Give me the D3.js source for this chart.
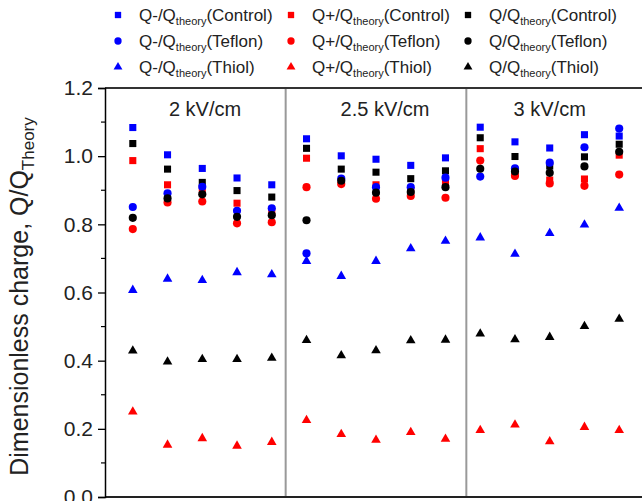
<!DOCTYPE html>
<html>
<head>
<meta charset="utf-8">
<script src="https://cdn.jsdelivr.net/npm/d3@7"></script>
<style>
  html, body { margin: 0; padding: 0; background: #fff; overflow: hidden; }
  svg { display: block; font-family: "Liberation Sans", Arial, sans-serif; }
</style>
</head>
<body>
<div id="chart"></div>
<script>
// Tamaño del lienzo
const width = 642;
const height = 501;

// Posiciones de las muestras en el eje x (5 por campo eléctrico)
const xPos = [1, 2, 3, 4, 5, 6, 7, 8, 9, 10, 11, 12, 13, 14, 15];

// Etiquetas de los paneles y su posición
const fieldLabels = ["2 kV/cm", "2.5 kV/cm", "3 kV/cm"];
const fieldLabelX = [3.08, 8.26, 13.0];
const dividers = [5.4, 10.6];

// Marcas del eje y
const yTicks = [0.0, 0.2, 0.4, 0.6, 0.8, 1.0, 1.2];
const yMinorTicks = [0.1, 0.3, 0.5, 0.7, 0.9, 1.1];

// Series
const qMinusControl = [1.084, 1.004, 0.964, 0.936, 0.916, 1.051, 1.001, 0.991, 0.973, 0.995, 1.085, 1.042, 1.024, 1.063, 1.059];
const qPlusControl  = [0.987, 0.916, 0.903, 0.862, 0.837, 0.994, 0.925, 0.916, 0.900, 0.925, 1.022, 0.950, 0.930, 0.933, 1.003];
const qControl      = [1.037, 0.962, 0.923, 0.899, 0.880, 1.023, 0.962, 0.953, 0.934, 0.957, 1.054, 0.999, 0.971, 0.998, 1.035];
const qMinusTeflon  = [0.851, 0.891, 0.910, 0.840, 0.847, 0.715, 0.934, 0.909, 0.909, 0.937, 0.940, 0.964, 0.981, 1.026, 1.081];
const qPlusTeflon   = [0.786, 0.864, 0.867, 0.803, 0.806, 0.909, 0.918, 0.875, 0.883, 0.878, 0.987, 0.942, 0.920, 0.913, 0.946];
const qTeflon       = [0.819, 0.876, 0.888, 0.822, 0.827, 0.812, 0.928, 0.893, 0.895, 0.909, 0.963, 0.955, 0.951, 0.970, 1.013];
const qMinusThiol   = [0.607, 0.640, 0.636, 0.659, 0.653, 0.692, 0.648, 0.692, 0.729, 0.751, 0.761, 0.713, 0.774, 0.799, 0.848];
const qPlusThiol    = [0.250, 0.153, 0.172, 0.150, 0.161, 0.225, 0.184, 0.167, 0.190, 0.170, 0.196, 0.212, 0.163, 0.205, 0.196];
const qThiol        = [0.429, 0.397, 0.404, 0.404, 0.408, 0.460, 0.415, 0.430, 0.459, 0.461, 0.479, 0.462, 0.469, 0.501, 0.522];

// Nombres de la leyenda (orden por filas)
const prefixes = ["Q-/Q", "Q+/Q", "Q/Q"];
const samples = ["Control", "Teflon", "Thiol"];

// Tabla de series: fila = muestra, columna = tipo de carga
const series = [
  { values: qMinusControl, color: "#0000ff", shape: "square", col: 0, row: 0 },
  { values: qPlusControl,  color: "#ff0000", shape: "square", col: 1, row: 0 },
  { values: qControl,      color: "#000000", shape: "square", col: 2, row: 0 },
  { values: qMinusTeflon,  color: "#0000ff", shape: "circle", col: 0, row: 1 },
  { values: qPlusTeflon,   color: "#ff0000", shape: "circle", col: 1, row: 1 },
  { values: qTeflon,       color: "#000000", shape: "circle", col: 2, row: 1 },
  { values: qMinusThiol,   color: "#0000ff", shape: "triangle", col: 0, row: 2 },
  { values: qPlusThiol,    color: "#ff0000", shape: "triangle", col: 1, row: 2 },
  { values: qThiol,        color: "#000000", shape: "triangle", col: 2, row: 2 }
];

// Escalas
const x = d3.scaleLinear().domain([0.2, 15.8]).range([105, 647]);
const y = d3.scaleLinear().domain([0, 1.2]).range([497, 88]);

const symbols = {
  square: d3.symbol().type(d3.symbolSquare).size(50),
  circle: d3.symbol().type(d3.symbolCircle).size(52),
  triangle: d3.symbol().type(d3.symbolTriangle).size(40)
};
const legendSymbols = {
  square: d3.symbol().type(d3.symbolSquare).size(40),
  circle: d3.symbol().type(d3.symbolCircle).size(42),
  triangle: d3.symbol().type(d3.symbolTriangle).size(34)
};

const svg = d3.select("#chart").append("svg")
  .attr("width", width)
  .attr("height", height);

// Separadores de los paneles
svg.selectAll(".divider")
  .data(dividers)
  .enter().append("line")
  .attr("x1", d => x(d)).attr("x2", d => x(d))
  .attr("y1", y(1.2)).attr("y2", y(0))
  .attr("stroke", "#999")
  .attr("stroke-width", 2);

// Línea superior del marco
svg.append("line")
  .attr("x1", x(0.2)).attr("x2", width)
  .attr("y1", y(1.2)).attr("y2", y(1.2))
  .attr("stroke", "#333")
  .attr("stroke-width", 2);

// Eje x (solo la línea)
svg.append("line")
  .attr("x1", x(0.2)).attr("x2", width)
  .attr("y1", y(0)).attr("y2", y(0))
  .attr("stroke", "#222")
  .attr("stroke-width", 2);

// Eje y
const yAxis = svg.append("g")
  .attr("transform", `translate(${x(0.2)},0)`)
  .call(d3.axisLeft(y).tickValues(yTicks).tickFormat(d3.format(".1f")).tickSize(7).tickPadding(5));
yAxis.select(".domain").attr("stroke", "#000").attr("stroke-width", 1.5);
yAxis.selectAll(".tick line").attr("stroke", "#000").attr("stroke-width", 1.3);
yAxis.selectAll(".tick text")
  .attr("font-family", "'Liberation Sans', Arial, sans-serif")
  .attr("font-size", 21)
  .attr("fill", "#222");

svg.append("g")
  .attr("transform", `translate(${x(0.2)},0)`)
  .selectAll("line")
  .data(yMinorTicks)
  .enter().append("line")
  .attr("x1", -4).attr("x2", 0)
  .attr("y1", d => y(d)).attr("y2", d => y(d))
  .attr("stroke", "#000")
  .attr("stroke-width", 1.2);

// Título del eje y
const yTitle = svg.append("text")
  .attr("transform", `translate(28,${(y(0) + y(1.2)) / 2 + 4}) rotate(-90)`)
  .attr("text-anchor", "middle")
  .attr("font-size", 25)
  .attr("fill", "#222");
yTitle.append("tspan").text("Dimensionless charge, Q/Q");
yTitle.append("tspan").attr("font-size", 17).attr("dy", 6).text("Theory");

// Etiquetas de los paneles
svg.selectAll(".field")
  .data(fieldLabels)
  .enter().append("text")
  .attr("x", (d, i) => x(fieldLabelX[i]))
  .attr("y", 116)
  .attr("text-anchor", "middle")
  .attr("font-size", 20)
  .attr("fill", "#222")
  .text(d => d);

// Puntos
series.forEach(s => {
  svg.append("g")
    .selectAll("path")
    .data(s.values)
    .enter().append("path")
    .attr("d", symbols[s.shape])
    .attr("transform", (d, i) => `translate(${x(xPos[i])},${y(d)})`)
    .attr("fill", s.color);
});

// Leyenda
const legendColX = [118, 291, 468];
const legendRowY = [15, 41, 67];
series.forEach(s => {
  const g = svg.append("g")
    .attr("transform", `translate(${legendColX[s.col]},${legendRowY[s.row]})`);
  g.append("path")
    .attr("d", legendSymbols[s.shape])
    .attr("fill", s.color);
  const t = g.append("text")
    .attr("x", 21)
    .attr("y", 6)
    .attr("font-size", 17)
    .attr("fill", "#222");
  t.append("tspan").text(prefixes[s.col]);
  t.append("tspan").attr("font-size", 11).attr("dy", 4).text("theory");
  t.append("tspan").attr("dy", -4).text("(" + samples[s.row] + ")");
});
</script>
</body>
</html>
